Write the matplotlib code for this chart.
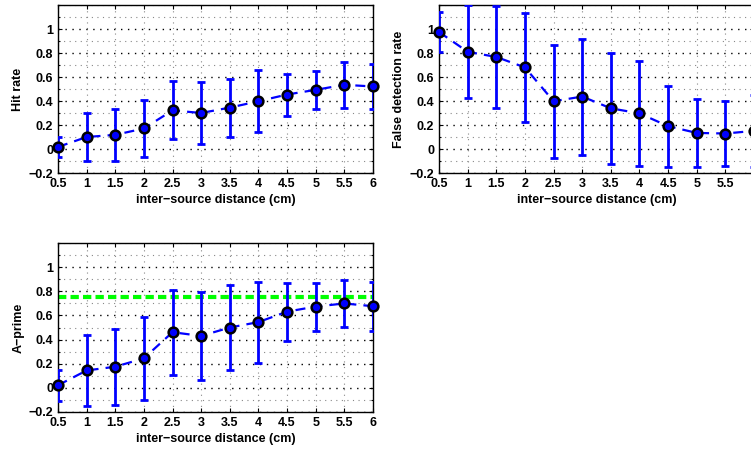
import matplotlib
matplotlib.use("Agg")
import matplotlib.pyplot as plt
from matplotlib.ticker import MultipleLocator

plt.rcParams['font.family'] = ['Liberation Sans', 'DejaVu Sans']
plt.rcParams['font.weight'] = 'bold'
plt.rcParams['font.size'] = 9

# distances (cm)
dist = [0.5, 1, 1.5, 2, 2.5, 3, 3.5, 4, 4.5, 5, 5.5, 6]

hit = [0.017, 0.10, 0.118, 0.171, 0.322, 0.30, 0.345, 0.398, 0.454, 0.493, 0.535, 0.521]
hit_err = [0.084, 0.20, 0.214, 0.237, 0.241, 0.258, 0.241, 0.259, 0.175, 0.157, 0.19, 0.185]

fdr = [0.975, 0.81, 0.767, 0.68, 0.398, 0.437, 0.339, 0.297, 0.19, 0.134, 0.129, 0.151]
fdr_err = [0.17, 0.387, 0.422, 0.456, 0.47, 0.483, 0.465, 0.435, 0.337, 0.286, 0.27, 0.30]

aprime = [0.02, 0.143, 0.174, 0.244, 0.461, 0.43, 0.50, 0.545, 0.632, 0.674, 0.70, 0.677]
aprime_err = [0.128, 0.292, 0.316, 0.347, 0.354, 0.365, 0.351, 0.337, 0.242, 0.20, 0.194, 0.205]
aprime_ref = 0.75

xticks = [0.5, 1, 1.5, 2, 2.5, 3, 3.5, 4, 4.5, 5, 5.5, 6]
xticklabels = ['0.5', '1', '1.5', '2', '2.5', '3', '3.5', '4', '4.5', '5', '5.5', '6']
yticks = [-0.2, 0, 0.2, 0.4, 0.6, 0.8, 1]
yticklabels = ['\u22120.2', '0', '0.2', '0.4', '0.6', '0.8', '1']


def panel(ax, y, err, ylabel):
    ax.errorbar(dist, y, yerr=err, fmt='none', ecolor='#0000ff', elinewidth=2,
                capsize=3, capthick=2, zorder=3)
    ax.plot(dist, y, '--', color='#0000ff', lw=1.6, dashes=(4.5, 3.2), zorder=4)
    ax.plot(dist, y, 'o', mfc='#0000ff', mec='black', mew=1.8, ms=7,
            zorder=5, clip_on=False)
    ax.set_xlim(0.5, 6)
    ax.set_ylim(-0.2, 1.2)
    ax.set_xticks(xticks)
    ax.set_xticklabels(xticklabels)
    ax.set_yticks(yticks)
    ax.set_yticklabels(yticklabels)
    ax.yaxis.set_minor_locator(MultipleLocator(0.1))
    ax.grid(True, which='major', axis='y', color='black', linestyle=(0, (1, 4)), lw=1)
    ax.grid(True, which='minor', axis='y', color='#888888', linestyle=(0, (1, 4)), lw=0.8)
    ax.grid(True, which='major', axis='x', color='#888888', linestyle=(0, (1, 4)), lw=0.8)
    ax.tick_params(direction='in', top=True, right=True, which='both', length=3, width=0.8, pad=3.5)
    ax.tick_params(which='minor', length=1.5)
    for s in ax.spines.values():
        s.set_linewidth(1)
    ax.set_xlabel('inter\u2212source distance (cm)', fontweight='bold', labelpad=3)
    ax.set_ylabel(ylabel, fontweight='bold', labelpad=3)
    ax.set_axisbelow(True)


fig = plt.figure(figsize=(7.51, 4.51), dpi=100)
ax1 = fig.add_axes([0.0772, 0.6164, 0.4194, 0.3725])
ax2 = fig.add_axes([0.5846, 0.6164, 0.4194, 0.3725])
ax3 = fig.add_axes([0.0772, 0.0871, 0.4194, 0.3734])

panel(ax1, hit, hit_err, 'Hit rate')
panel(ax2, fdr, fdr_err, 'False detection rate')
panel(ax3, aprime, aprime_err, 'A\u2212prime')
ax3.axhline(aprime_ref, color='#00ff00', lw=3, linestyle='--', dashes=(2, 1), zorder=2)

fig.savefig('out.png', dpi=100)
